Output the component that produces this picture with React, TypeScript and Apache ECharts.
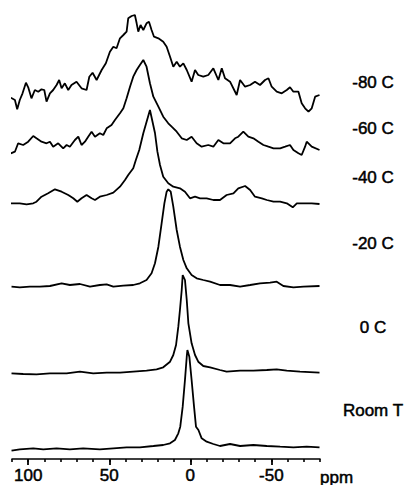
import React, { useEffect, useRef } from "react";
import * as echarts from "echarts";

const PPM_MIN = -80;
const PPM_MAX = 110;
const majorTicks = [100, 50, 0, -50];
const traceLabels = ["Room T", "0 C", "-20 C", "-40 C", "-60 C", "-80 C"];
// vertical stacking offsets (baseline of each spectrum)
const offsets = [11, 86, 172, 256, 307, 359];

// [ppm, intensity above the trace baseline]
const roomT: [number, number][] = [
  [110.3, -2.7], [105.2, -1.3], [96.9, -0.3], [90.7, -1.3], [82.5, -0.3], [74.3, -1.3],
  [66.1, -0.3], [55.8, -1.3], [47.5, -0.3], [39.3, 0.7], [31.1, 0.7], [22.8, 2],
  [16.7, 3], [12.5, 4.7], [9.5, 8], [7.4, 14.7], [6.2, 21.3], [4.7, 41.3], [3.3, 68],
  [2.2, 91.3], [1.8, 98], [0.6, 91.3], [-0.8, 68], [-2.3, 41.3], [-3.5, 21.3],
  [-5.0, 18], [-7.0, 9.7], [-10.1, 6.3], [-14.2, 4], [-18.3, 2], [-24.5, 4], [-30.7, 2],
  [-38.9, 3], [-47.2, 2], [-55.4, 1.3], [-63.6, 0.7], [-71.8, 1.3], [-79.7, 0.7],
];

const zeroC: [number, number][] = [
  [110.3, -0.3], [103.1, -1], [94.9, -1.3], [86.6, -0.3], [76.3, -0.3], [68.1, 1.3],
  [59.9, -0.3], [51.6, 0.3], [43.4, 0.3], [35.2, 1.3], [27.0, 2.3], [20.8, 3.7],
  [16.7, 5.7], [12.5, 11.3], [10.5, 18], [8.8, 28], [7.4, 46.3], [6.4, 63], [5.3, 83],
  [4.7, 98], [3.3, 93], [2.2, 73], [1.2, 49.7], [-0.8, 29.7], [-2.9, 18], [-4.9, 11.3],
  [-8.0, 7], [-12.2, 5.7], [-18.3, 3], [-22.4, 1.3], [-30.7, 2.3], [-38.9, 2.3],
  [-47.2, 3], [-53.3, 3.7], [-59.5, 2.3], [-67.7, 1.3], [-79.7, 0.3],
];

const minus20C: [number, number][] = [
  [110.3, 0.3], [105.2, -0.3], [99.0, 0.3], [92.8, 0.3], [86.6, 1], [79.4, 3.7],
  [74.3, 2], [68.1, 3], [61.9, 0.3], [55.8, 2], [51.6, 2.7], [47.5, 0.3], [41.4, 1.3],
  [35.2, 2], [31.1, 3.7], [27.0, 7], [23.9, 13.7], [21.8, 23.7], [19.7, 40.3],
  [17.7, 63.7], [16.0, 83.7], [14.6, 95.3], [13.6, 97.7], [12.1, 95.3], [10.5, 80.3],
  [8.4, 57], [6.4, 40.3], [4.3, 27], [2.2, 18.7], [-0.8, 12], [-3.9, 8.7], [-8.0, 7],
  [-12.2, 5.3], [-18.3, 2], [-24.5, 2], [-30.7, 0.3], [-36.9, 2], [-43.0, 3.7],
  [-49.2, 4.3], [-53.3, 5.3], [-57.4, 1], [-63.6, -0.3], [-69.8, 0.3], [-79.7, 1],
];

const minus40C: [number, number][] = [
  [110.7, -0.3], [105.2, -0.3], [101.0, -1.3], [96.9, -0.3], [94.9, 1.3], [91.8, 6.3],
  [87.7, 9.7], [83.5, 13.7], [79.4, 11.3], [75.3, 8], [72.2, 4.7], [69.7, 1.3],
  [67.1, 4.7], [64.0, 8], [60.9, 4.7], [58.8, 3], [55.8, 6.3], [51.6, 8], [47.5, 10.3],
  [43.4, 16.3], [40.3, 23], [38.3, 28], [35.2, 34.7], [33.6, 43], [31.5, 53],
  [29.0, 69.7], [24.9, 93], [21.8, 70], [20.3, 51.3], [18.7, 38], [16.7, 26.3],
  [13.6, 19.7], [10.5, 16.3], [6.4, 14.7], [3.3, 11.3], [0.2, 4.7], [-2.9, 6.3],
  [-6.0, 4.7], [-10.1, 4.7], [-14.2, 3], [-18.3, 3], [-22.4, 8], [-26.6, 9.7],
  [-29.6, 14.7], [-33.8, 17], [-36.9, 13], [-39.9, 6.3], [-44.1, 4.7], [-47.2, 3],
  [-51.3, 1.3], [-55.4, 1.3], [-59.5, -0.3], [-63.2, -4.3], [-65.7, -0.3], [-69.8, -0.3],
  [-74.9, -0.3], [-79.7, -1],
];

const minus60C: [number, number][] = [
  [110.7, -1.3], [108.2, 0.3], [106.2, 8.7], [103.1, 7], [100.0, 10.3], [96.9, 16],
  [94.9, 13.7], [91.8, 10.3], [88.7, 8.7], [86.6, 10.3], [84.6, 5.3], [81.5, 8.7],
  [78.4, 3.7], [76.3, 7], [74.3, 5.3], [71.2, 12], [69.1, 15.3], [67.1, 7], [65.0, 10.3],
  [63.0, 15.3], [60.9, 20.3], [58.8, 15.3], [55.8, 18.7], [53.7, 17], [51.6, 23.7],
  [48.6, 27], [46.5, 32], [43.4, 38.7], [41.3, 43.7], [39.3, 53.7], [37.2, 65.3],
  [35.2, 75.3], [33.1, 82], [31.1, 87], [29.0, 92], [27.0, 85.3], [24.9, 68.7],
  [22.8, 55.3], [19.7, 45.3], [16.7, 35.3], [13.6, 28.7], [11.5, 25.3], [8.4, 20.3],
  [5.3, 13.7], [2.2, 12], [-0.8, 15.3], [-3.9, 8.7], [-7.0, 5.3], [-11.1, 7],
  [-14.2, 5.3], [-17.3, 12], [-20.4, 8.7], [-24.5, 8.7], [-27.6, 13.7], [-29.6, 15.3],
  [-32.7, 20.3], [-35.8, 15.3], [-38.9, 13.7], [-42.0, 10.3], [-45.1, 7], [-48.2, 5.3],
  [-51.3, 3.7], [-55.4, 3.7], [-58.5, 5.3], [-61.5, 7], [-63.6, 2], [-66.7, -1.3],
  [-68.7, -3], [-70.8, 5.3], [-71.8, 10.3], [-74.9, 5.3], [-79.7, 2],
];

const minus80C: [number, number][] = [
  [110.7, 2.3], [108.2, 0], [106.8, -9.3], [105.2, 0], [103.5, 6.7], [101.4, 17.3],
  [100.0, 12.7], [98.0, 1.7], [95.9, 10], [93.8, 8.3], [91.8, 10.7], [90.1, 10],
  [88.7, -1.7], [86.6, 6.7], [84.6, 10], [82.5, 15], [80.9, 20], [79.4, 11.7],
  [77.4, 16.7], [75.3, 10], [73.3, 15], [70.2, 18.3], [67.1, 11.7], [64.0, 10],
  [62.3, 23.3], [60.3, 27.3], [57.8, 20], [54.7, 30], [52.1, 36.7], [49.6, 48.3],
  [47.5, 53.3], [45.5, 51.7], [43.4, 61.7], [41.3, 65], [39.3, 68.3], [38.3, 81.7],
  [36.2, 84], [34.2, 85], [33.1, 76.7], [32.1, 68.3], [30.7, 75], [29.0, 70],
  [27.0, 76.7], [25.5, 78.3], [23.9, 70], [22.4, 63.3], [19.7, 61.7], [16.7, 58.3],
  [14.6, 53.3], [12.5, 43.3], [10.5, 33.3], [8.4, 38.3], [6.4, 33.3], [4.3, 36.7],
  [2.2, 30], [-0.8, 18.3], [-2.9, 30], [-4.9, 25], [-8.0, 23.3], [-11.1, 25],
  [-14.2, 31.7], [-17.3, 20], [-19.4, 31.7], [-21.4, 21.7], [-24.5, 18.3], [-28.6, 5],
  [-30.7, 20], [-33.8, 13.3], [-36.9, 15], [-39.9, 18.3], [-43.0, 15], [-46.1, 20],
  [-48.2, 21.7], [-50.2, 13.3], [-53.3, 8.3], [-56.4, 6.7], [-59.5, 10], [-61.5, 12.7],
  [-63.6, 8.3], [-66.7, 8.3], [-68.7, -3.3], [-70.8, -8.3], [-72.9, -11.7],
  [-74.9, -8.3], [-77.0, 3.3], [-79.7, 5],
];

const traces = [roomT, zeroC, minus20C, minus40C, minus60C, minus80C];
const labelY = [410, 327, 243, 177, 128, 82];

const FONT = "'Liberation Sans', Arial, Helvetica, sans-serif";

export default function App() {
  const ref = useRef<HTMLDivElement>(null);
  useEffect(() => {
    if (!ref.current) return;
    const chart = echarts.init(ref.current, undefined, { renderer: "svg" });
    const xBase = {
      type: "value" as const,
      min: PPM_MIN,
      max: PPM_MAX,
      inverse: true,
      position: "bottom" as const,
      splitLine: { show: false },
    };
    chart.setOption({
      animation: false,
      backgroundColor: "#ffffff",
      grid: { left: 12, right: 89, top: 0, bottom: 26, containLabel: false },
      xAxis: [
        {
          ...xBase,
          interval: 10,
          axisLine: { show: true, lineStyle: { color: "#000", width: 1.6 } },
          axisTick: { show: true, length: 3, lineStyle: { color: "#000", width: 1.6 } },
          axisLabel: { show: false },
        },
        {
          ...xBase,
          interval: 10,
          axisLine: { show: false },
          axisTick: {
            show: true,
            length: 6,
            customValues: majorTicks,
            lineStyle: { color: "#000", width: 1.8 },
          },
          axisLabel: {
            show: true,
            customValues: majorTicks,
            margin: 8,
            color: "#000",
            fontSize: 17,
            fontFamily: FONT,
            textBorderColor: "#000",
            textBorderWidth: 0.5,
            formatter: (v: number) => String(v),
          },
        },
      ],
      yAxis: { type: "value", min: 0, max: 459, show: false },
      series: traces.map((t, i) => ({
        type: "line",
        name: traceLabels[i],
        xAxisIndex: 0,
        showSymbol: false,
        symbol: "none",
        smooth: false,
        lineStyle: { color: "#000", width: 1.8 },
        data: t.map(([p, v]) => [p, v + offsets[i]]),
      })),
      graphic: [
        ...traceLabels.map((lbl, i) => ({
          type: "text",
          x: 373,
          y: labelY[i],
          style: {
            text: lbl,
            fill: "#000",
            stroke: "#000",
            lineWidth: 0.5,
            font: `17px ${FONT}`,
            textAlign: "center",
            textVerticalAlign: "middle",
          },
        })),
        {
          type: "text",
          x: 320,
          y: 477,
          style: {
            text: "ppm",
            fill: "#000",
            stroke: "#000",
            lineWidth: 0.5,
            font: `17px ${FONT}`,
            textAlign: "left",
            textVerticalAlign: "middle",
          },
        },
      ],
    });
    return () => chart.dispose();
  }, []);
  return (
    <div
      ref={ref}
      style={{ position: "fixed", left: 0, top: 0, width: 409, height: 485 }}
    />
  );
}
